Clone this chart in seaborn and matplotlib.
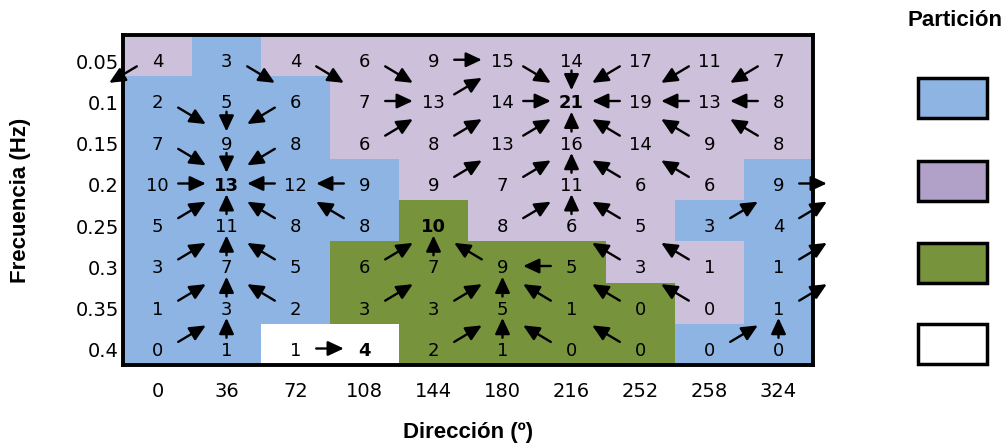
import numpy as np
import pandas as pd
import matplotlib
matplotlib.use("Agg")
import matplotlib.pyplot as plt
import seaborn as sns
from matplotlib.colors import ListedColormap
from matplotlib.patches import Rectangle

# ---------------- data ----------------
directions = [0, 36, 72, 108, 144, 180, 216, 252, 258, 324]
frequencies = ["0.05", "0.1", "0.15", "0.2", "0.25", "0.3", "0.35", "0.4"]

# energy counts per cell (rows = frequency top->bottom, cols = direction)
counts = [
    [4, 3, 4, 6, 9, 15, 14, 17, 11, 7],
    [2, 5, 6, 7, 13, 14, 21, 19, 13, 8],
    [7, 9, 8, 6, 8, 13, 16, 14, 9, 8],
    [10, 13, 12, 9, 9, 7, 11, 6, 6, 9],
    [5, 11, 8, 8, 10, 8, 6, 5, 3, 4],
    [3, 7, 5, 6, 7, 9, 5, 3, 1, 1],
    [1, 3, 2, 3, 3, 5, 1, 0, 0, 1],
    [0, 1, 1, 4, 2, 1, 0, 0, 0, 0],
]

# partition id: 1 blue, 2 purple, 3 green, 4 white
partition = [
    [2, 1, 2, 2, 2, 2, 2, 2, 2, 2],
    [1, 1, 1, 2, 2, 2, 2, 2, 2, 2],
    [1, 1, 1, 2, 2, 2, 2, 2, 2, 2],
    [1, 1, 1, 1, 2, 2, 2, 2, 2, 1],
    [1, 1, 1, 1, 3, 2, 2, 2, 1, 1],
    [1, 1, 1, 3, 3, 3, 3, 2, 2, 1],
    [1, 1, 1, 3, 3, 3, 3, 3, 2, 1],
    [1, 1, 4, 4, 3, 3, 3, 3, 1, 1],
]

# steepest-ascent direction of each cell ("" = local peak)
steps = [
    ["DL", "DR", "DR", "DR", "R", "DR", "D", "DL", "DL", "DL"],
    ["DR", "D", "DL", "R", "UR", "R", "", "L", "L", "L"],
    ["DR", "D", "DL", "UR", "UR", "UR", "U", "UL", "UL", "UL"],
    ["R", "", "L", "L", "UR", "UR", "U", "UL", "UL", "R"],
    ["UR", "U", "UL", "UL", "", "UR", "U", "UL", "UR", "UR"],
    ["UR", "U", "UL", "UR", "U", "UL", "L", "UL", "UL", "UR"],
    ["UR", "U", "UL", "UR", "UR", "U", "UL", "UL", "UL", "UR"],
    ["UR", "U", "R", "", "UR", "U", "UL", "UL", "UR", "U"],
]

cell_colors = ["#8DB4E2", "#CCC0DA", "#77933C", "#FFFFFF"]
legend_colors = ["#8DB4E2", "#B1A0C7", "#77933C", "#FFFFFF"]

# ---------------- figure ----------------
sns.set_style("white")
plt.rcParams["font.family"] = ["DejaVu Sans"]
plt.rcParams.update({"text.color": "black", "axes.labelcolor": "black",
                     "xtick.color": "black", "ytick.color": "black"})

W, H = 1006, 445
fig = plt.figure(figsize=(W / 100, H / 100), dpi=100)
ax = fig.add_axes([123 / W, 1 - 365 / H, 690 / W, 330 / H])

df = pd.DataFrame(partition, index=frequencies, columns=directions)
sns.heatmap(df, cmap=ListedColormap(cell_colors), vmin=0.5, vmax=4.5,
            cbar=False, ax=ax, linewidths=0)

# numbers
for r in range(len(frequencies)):
    for c in range(len(directions)):
        peak = steps[r][c] == ""
        ax.text(c + 0.5, r + 0.66, str(counts[r][c]), ha="center", va="center",
                fontsize=13, color="black",
                fontweight="bold" if peak else "normal")

# arrows
vec = {"R": (1, 0), "L": (-1, 0), "U": (0, -1), "D": (0, 1),
       "UR": (1, -1), "UL": (-1, -1), "DR": (1, 1), "DL": (-1, 1)}
for r in range(len(frequencies)):
    for c in range(len(directions)):
        d = steps[r][c]
        if not d:
            continue
        dx, dy = vec[d]
        mx = c + 0.5 + dx / 2
        my = r + 0.5 + dy / 2 + 0.1
        if dx != 0:
            my -= dy * 0.14
        sx = 0.2
        sy = 0.24 if dx == 0 else 0.2
        start = (mx - dx * sx, my - dy * sy)
        end = (mx + dx * sx, my + dy * sy)
        ax.annotate("", xy=end, xytext=start, annotation_clip=False,
                    arrowprops=dict(arrowstyle="-|>,head_length=0.6,head_width=0.28",
                                    color="black", lw=1.7, shrinkA=0, shrinkB=0,
                                    mutation_scale=16))

# axes styling
ax.set_xticks(np.arange(len(directions)) + 0.5)
ax.set_xticklabels([str(d) for d in directions], rotation=0)
ax.set_yticks(np.arange(len(frequencies)) + 0.68)
ax.set_yticklabels(frequencies, rotation=0)
ax.tick_params(axis="x", length=0, pad=12, labelsize=14)
ax.tick_params(axis="y", length=0, pad=3, labelsize=14)
for s in ax.spines.values():
    s.set_visible(True)
    s.set_linewidth(2.8)
    s.set_color("black")

ax.set_xlabel("Dirección (º)", fontsize=16, fontweight="bold",
              family="Liberation Sans")
ax.set_ylabel("Frecuencia (Hz)", fontsize=16, fontweight="bold",
              family="Liberation Sans")
ax.xaxis.label.set_va("center")
ax.yaxis.label.set_va("center")
ax.xaxis.set_label_coords(0.5, -0.206)
ax.yaxis.set_label_coords(-0.148, 0.5)

# legend
fig.text(955 / W, 1 - 21 / H, "Partición", ha="center", va="center",
         fontsize=16, fontweight="bold", family="Liberation Sans")
box_tops = [78, 161, 243, 324]
for top, col in zip(box_tops, legend_colors):
    fig.add_artist(Rectangle((918 / W, 1 - (top + 40) / H), 69 / W, 40 / H,
                             transform=fig.transFigure, facecolor=col,
                             edgecolor="black", linewidth=2.5))

fig.savefig("out.png", dpi=100)
